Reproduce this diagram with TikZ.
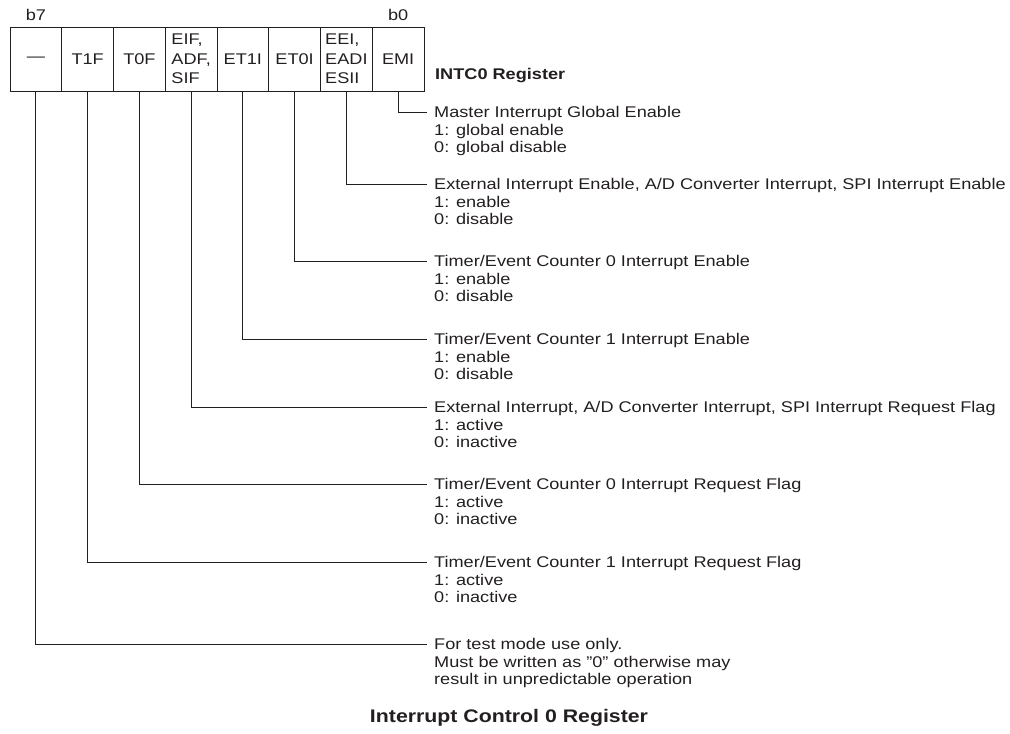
\documentclass[tikz,border=0pt]{standalone}
\usepackage{fontspec}
\setmainfont{Liberation Sans}[FakeStretch=1.17]
\usepackage{xcolor}
\usepackage{tikz}
\usetikzlibrary{
	positioning
}

\definecolor{ink}{HTML}{231F20}
\newcommand{\regtext}{\fontsize{15.5}{17.5}\selectfont}
\newcommand{\celltext}{\fontsize{15.5}{19.5}\selectfont}

\tikzset{
	bitcell/.style={draw=ink, line width=0.9pt, outer sep=0pt, inner sep=0pt,
		minimum width=51.75pt, minimum height=64pt, align=left, font=\celltext, text=ink},
	lead/.style={draw=ink, line width=0.9pt},
	desc/.style={inner sep=0pt, align=left, font=\regtext, text=ink},
	bitno/.style={inner sep=0pt, font=\regtext, text=ink}
}

\begin{document}
\begin{tikzpicture}[x=1pt, y=-1pt]
	\useasboundingbox (0,0) rectangle (1010,734);
	% register cells, b7 on the left
	\foreach \b/\t in {7/—, 6/T1F, 5/T0F, 4/{EIF,\\ADF,\\SIF}, 3/ET1I, 2/ET0I, 1/{EEI,\\EADI\\ESII}, 0/EMI}
		\node[bitcell] (c\b) at ({10+51.75*(7.5-\b)},59) {\t};
	\node[bitno, above=6pt of c7] (b7) {b7};
	\node[bitno, above=6pt of c0] (b0) {b0};
	\node[desc, font=\regtext\bfseries, anchor=west] (reg) at (435,76) {INTC0 Register};
	% leader lines
	\foreach \b/\y in {0/112, 1/184, 2/261, 3/339, 4/407, 5/484, 6/562, 7/644} {
		\coordinate (e\b) at (427,\y);
		\draw[lead] (c\b.south) |- (e\b);
	}
	\node[desc, below right=-5.7pt and 7pt of e0] (d0) {Master Interrupt Global Enable\\1: global enable\\0: global disable};
	\node[desc, below right=-5.7pt and 7pt of e1] (d1) {External Interrupt Enable, A/D Converter Interrupt, SPI Interrupt Enable\\1: enable\\0: disable};
	\node[desc, below right=-5.7pt and 7pt of e2] (d2) {Timer/Event Counter 0 Interrupt Enable\\1: enable\\0: disable};
	\node[desc, below right=-5.7pt and 7pt of e3] (d3) {Timer/Event Counter 1 Interrupt Enable\\1: enable\\0: disable};
	\node[desc, below right=-5.7pt and 7pt of e4] (d4) {External Interrupt, A/D Converter Interrupt, SPI Interrupt Request Flag\\1: active\\0: inactive};
	\node[desc, below right=-5.7pt and 7pt of e5] (d5) {Timer/Event Counter 0 Interrupt Request Flag\\1: active\\0: inactive};
	\node[desc, below right=-5.7pt and 7pt of e6] (d6) {Timer/Event Counter 1 Interrupt Request Flag\\1: active\\0: inactive};
	\node[desc, below right=-5.7pt and 7pt of e7] (d7) {For test mode use only.\\Must be written as \symbol{"22}0\symbol{"22} otherwise may\\result in unpredictable operation};
	% caption
	\node[desc, font=\fontsize{18.2}{22}\selectfont\bfseries] (title) at (509,718) {Interrupt Control 0 Register};
\end{tikzpicture}
\end{document}
